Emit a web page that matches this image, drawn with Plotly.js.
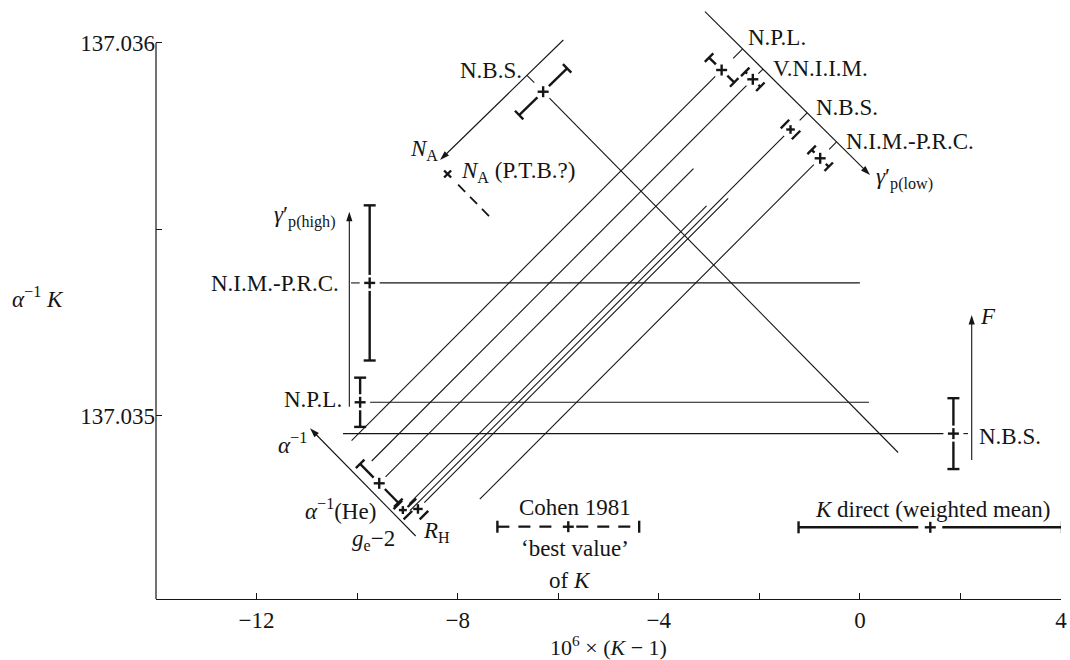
<!DOCTYPE html>
<html><head><meta charset="utf-8">
<script src="https://cdn.plot.ly/plotly-3.0.1.min.js"></script>
<style>html,body{margin:0;padding:0;background:#fff}#chart{width:1070px;height:660px}</style>
</head><body><div id="chart"></div>
<script>
// ---------------- values ----------------
const xRange = [-14, 4];
const yRange = [137.0345086, 137.0361011];
const xTick0 = -12, xDtick = 4, xMinorDtick = 2;
const yTick0 = 137.035, yDtick = 0.001, yMinorDtick = 0.0005;
const yAxisTop = 137.036;

// gamma'p(high) measurements: vertical bars, horizontal constraint lines
const gHighLab = ['N.I.M.-P.R.C.', 'N.P.L.'];
const gHighX = [-9.75, -9.94];
const gHighY = [137.035356, 137.035036];
const gHighErr = [0.000208, 0.000066];
const gHighFrom = [-10.12, -9.94];
const gHighTo = [0.0, 0.18];
const gHighArrowX = -10.155;
const gHighArrowY = [137.0350241, 137.0355469];

// Faraday (N.B.S.)
const fX = [1.86];
const fY = [137.034952];
const fErr = [0.000095];
const fFrom = [-10.28];
const fTo = [2.15];
const fArrowX = 2.224;
const fArrowY = [137.0348813, 137.0352700];

// gamma'p(low) axis and measurements
const gLowAxisX = [-3.081, 0.201];
const gLowAxisY = [137.0360831, 137.0356453];
const gLowLab = ['N.P.L.', 'V.N.I.I.M.', 'N.B.S.', 'N.I.M.-P.R.C.'];
const gLowX = [-2.75, -2.13, -1.38, -0.79];
const gLowY = [137.0359268, 137.0359019, 137.0357673, 137.0356901];
const gLowErr = [0.25, 0.15, 0.11, 0.17];
const gLowEnd = [-10.11, -9.71, -8.95, -7.56];

// N_A axis and measurements
const naAxisX = [-5.899, -8.351];
const naAxisY = [137.0360073, 137.0356855];
const naX = [-6.30];
const naY = [137.0358686];
const naErr = [0.477];
const naEnd = [0.76];
const ptbX = [-8.20];
const ptbY = [137.035648];
const ptbEnd = [-7.33];

// alpha^-1 axis and measurements: He, g_e-2, R_H
const alAxisX = [-8.835, -10.937];
const alAxisY = [137.0346775, 137.0349662];
const alX = [-9.56, -9.09, -8.79];
const alY = [137.0348188, 137.034747, 137.03475];
const alErr = [0.38, 0.10, 0.12];
const alEnd = [-3.31, -3.05, -2.62];

// slopes of the constraint lines (d(alpha^-1 K) per unit of 10^6(K-1))
const slopeUp = 1.35e-4;
const slopeDown = -1.37e-4;

// K values
const cohenX = [-5.80], cohenErr = [1.41], cohenY = [137.0347024];
const kdX = [1.40], kdErr = [2.62], kdY = [137.0347008];

// ---------------- geometry helpers ----------------
const M = {l: 156, r: 9, t: 5, b: 61, w: 1070, h: 660};
const KX = (M.w - M.l - M.r) / (xRange[1] - xRange[0]);
const KY = (M.h - M.t - M.b) / (yRange[1] - yRange[0]);
const GAP = 9, CAP = 6;

const thin = {x: [], y: []}, bold = {x: [], y: []}, dashBold = {x: [], y: []}, dashThin = {x: [], y: []};
function addSeg(t, a, b) { t.x.push(a[0], b[0], null); t.y.push(a[1], b[1], null); }
function move(x, y, dx, dy, d) { const n = Math.hypot(dx * KX, dy * KY); return [x + dx * d / n, y + dy * d / n]; }
function lineFromCenter(t, xc, yc, xe, slope, gap) {
  const dx = xe - xc, dy = slope * dx;
  addSeg(t, move(xc, yc, dx, dy, gap), [xe, yc + dy]);
}
function plusAt(xc, yc, arm) {
  addSeg(bold, [xc - arm / KX, yc], [xc + arm / KX, yc]);
  addSeg(bold, [xc, yc - arm / KY], [xc, yc + arm / KY]);
}
function crossAt(xc, yc, arm) {
  addSeg(bold, [xc - arm / KX, yc - arm / KY], [xc + arm / KX, yc + arm / KY]);
  addSeg(bold, [xc - arm / KX, yc + arm / KY], [xc + arm / KX, yc - arm / KY]);
}
function errBar(xc, yc, ex, ey, opts) {
  opts = opts || {};
  const e1 = [xc - ex, yc - ey], e2 = [xc + ex, yc + ey];
  const lenPx = Math.hypot(ex * KX, ey * KY);
  const t = opts.dashed ? dashBold : bold;
  const g = opts.gap || 8;
  if (lenPx > g + 2) {
    addSeg(t, e1, move(xc, yc, -ex, -ey, g));
    addSeg(t, move(xc, yc, ex, ey, g), e2);
  }
  const pxv = ex * KX, pyv = ey * KY, n = Math.hypot(pxv, pyv);
  const cx = -pyv / n * CAP / KX, cy = pxv / n * CAP / KY;
  addSeg(bold, [e1[0] - cx, e1[1] - cy], [e1[0] + cx, e1[1] + cy]);
  addSeg(bold, [e2[0] - cx, e2[1] - cy], [e2[0] + cx, e2[1] + cy]);
  plusAt(xc, yc, Math.min(5.5, lenPx * 0.55));
}
function intersect(xc, yc, m, ax, ay) {
  const ma = (ay[1] - ay[0]) / (ax[1] - ax[0]);
  const x = (ay[0] - ma * ax[0] - yc + m * xc) / (m - ma);
  return [x, yc + m * (x - xc)];
}
function connector(xc, yc, m, ax, ay, frac) {
  const I = intersect(xc, yc, m, ax, ay);
  addSeg(thin, I, [I[0] + frac * (xc - I[0]), I[1] + frac * (yc - I[1])]);
}
function axisSlope(ax, ay) { return (ay[1] - ay[0]) / (ax[1] - ax[0]); }

// horizontal constraint lines with vertical bars
function hLine(xc, yc, from, to) {
  if (from < xc - 0.05) addSeg(thin, [from, yc], move(xc, yc, -1, 0, GAP + 1));
  addSeg(thin, move(xc, yc, 1, 0, GAP + 1), [to, yc]);
}
gHighX.forEach((x, i) => { hLine(x, gHighY[i], gHighFrom[i], gHighTo[i]); errBar(x, gHighY[i], 0, gHighErr[i]); });
fX.forEach((x, i) => { hLine(x, fY[i], fFrom[i], fTo[i]); errBar(x, fY[i], 0, fErr[i]); });

// gamma'p(low)
const sLow = axisSlope(gLowAxisX, gLowAxisY);
gLowX.forEach((x, i) => {
  const y = gLowY[i];
  errBar(x, y, gLowErr[i], gLowErr[i] * sLow);
  connector(x, y, slopeUp, gLowAxisX, gLowAxisY, 0.45);
  lineFromCenter(thin, x, y, gLowEnd[i], slopeUp, GAP);
});

// N_A
const sNA = axisSlope(naAxisX, naAxisY);
naX.forEach((x, i) => {
  const y = naY[i];
  errBar(x, y, naErr[i], naErr[i] * sNA);
  connector(x, y, slopeDown, naAxisX, naAxisY, 0.45);
  lineFromCenter(thin, x, y, naEnd[i], slopeDown, GAP);
});
ptbX.forEach((x, i) => { crossAt(x, ptbY[i], 3.5); lineFromCenter(dashThin, x, ptbY[i], ptbEnd[i], slopeDown, 15); });

// alpha^-1
const sAl = axisSlope(alAxisX, alAxisY);
alX.forEach((x, i) => {
  const y = alY[i];
  errBar(x, y, alErr[i], alErr[i] * sAl);
  lineFromCenter(thin, x, y, alEnd[i], slopeUp, GAP);
});

// K values
cohenX.forEach((x, i) => errBar(x, cohenY[i], cohenErr[i], 0, {dashed: true}));
kdX.forEach((x, i) => errBar(x, kdY[i], kdErr[i], 0, {gap: 12}));

// ---------------- traces ----------------
const INK = '#151515';
const traces = [
  {x: thin.x, y: thin.y, mode: 'lines', line: {color: INK, width: 1.1}, hoverinfo: 'skip'},
  {x: dashThin.x, y: dashThin.y, mode: 'lines', line: {color: INK, width: 1.8, dash: '10px,7px'}, hoverinfo: 'skip'},
  {x: bold.x, y: bold.y, mode: 'lines', line: {color: INK, width: 2.4}, hoverinfo: 'skip'},
  {x: dashBold.x, y: dashBold.y, mode: 'lines', line: {color: INK, width: 2.2, dash: '12px,9px'}, hoverinfo: 'skip'}
];
function arrowTrace(x0, y0, x1, y1) {
  return {x: [x0, x1], y: [y0, y1], mode: 'lines+markers', hoverinfo: 'skip',
    line: {color: INK, width: 1.1},
    marker: {symbol: 'arrow', size: 10, angleref: 'previous', color: INK, line: {width: 0}}};
}
traces.push(arrowTrace(gLowAxisX[0], gLowAxisY[0], gLowAxisX[1], gLowAxisY[1]));
traces.push(arrowTrace(naAxisX[0], naAxisY[0], naAxisX[1], naAxisY[1]));
traces.push(arrowTrace(alAxisX[0], alAxisY[0], alAxisX[1], alAxisY[1]));
traces.push(arrowTrace(gHighArrowX, gHighArrowY[0], gHighArrowX, gHighArrowY[1]));
traces.push(arrowTrace(fArrowX, fArrowY[0], fArrowX, fArrowY[1]));

// ---------------- text labels ----------------
const FONT = 'Liberation Serif, Times New Roman, serif';
const labels = [
  ['N.B.S.', -6.681, 137.0359268, 'right'],
  ['<i>N</i><sub>A</sub>', -8.670, 137.0357124, 'center'],
  ['<i>N</i><sub>A</sub> (P.T.B.?)', -7.973, 137.0356534, 'left'],
  ['<i>\u03b3</i>\u2032<sub>p(high)</sub>', -10.380, 137.0355354, 'right'],
  [gHighLab[0], -10.320, 137.0353558, 'right'],
  [gHighLab[1], -10.261, 137.0350448, 'right'],
  ['<i>\u03b1</i><sup>\u22121</sup>', -11.295, 137.0349242, 'center'],
  ['<i>\u03b1</i><sup>\u22121</sup>(He)', -9.585, 137.0347499, 'right'],
  ['<i>g</i><sub>e</sub>\u22122', -9.207, 137.0346668, 'right'],
  ['<i>R</i><sub>H</sub>', -8.730, 137.0346882, 'left'],
  ['Cohen 1981', -5.666, 137.0347526, 'center'],
  ['\u2018best value\u2019', -5.666, 137.0346427, 'center'],
  ['of <i>K</i>', -5.766, 137.0345595, 'center'],
  ['<i>K</i> direct (weighted mean)', 1.454, 137.0347499, 'center'],
  ['N.B.S.', 2.329, 137.0349456, 'left'],
  ['<i>F</i>', 2.349, 137.0352673, 'left'],
  [gLowLab[0], -2.265, 137.0360140, 'left'],
  [gLowLab[1], -1.768, 137.0359309, 'left'],
  [gLowLab[2], -0.912, 137.0358250, 'left'],
  [gLowLab[3], -0.316, 137.0357365, 'left'],
  ['<i>\u03b3</i>\u2032<sub>p(low)</sub>', 0.280, 137.0356373, 'left']
];
const annotations = labels.map(l => ({text: l[0], x: l[1], y: l[2], xref: 'x', yref: 'y',
  xanchor: l[3], yanchor: 'middle', showarrow: false, font: {family: FONT, size: 23, color: INK}}));
annotations.push({text: '<i>\u03b1</i><sup>\u22121</sup> <i>K</i>', x: -0.130, y: 0.507, xref: 'paper', yref: 'paper',
  xanchor: 'center', yanchor: 'middle', showarrow: false, font: {family: FONT, size: 23, color: INK}});

const tickStyle = {ticks: 'inside', ticklen: 6, tickcolor: INK, tickwidth: 1.2};
const layout = {
  width: M.w, height: M.h,
  margin: {l: M.l, r: M.r, t: M.t, b: M.b},
  paper_bgcolor: '#fff', plot_bgcolor: '#fff',
  showlegend: false, hovermode: false,
  font: {family: FONT, size: 23, color: INK},
  xaxis: Object.assign({range: xRange, tickmode: 'linear', tick0: xTick0, dtick: xDtick,
    minor: Object.assign({tick0: xTick0, dtick: xMinorDtick, showgrid: false}, tickStyle),
    showline: true, linecolor: INK, linewidth: 1.2, showgrid: false,
    zeroline: false, automargin: false, tickfont: {family: FONT, size: 23, color: INK},
    title: {text: '10<sup>6</sup> \u00d7 (<i>K</i> \u2212 1)', standoff: 6, font: {family: FONT, size: 22, color: INK}}}, tickStyle),
  yaxis: Object.assign({range: yRange, tickmode: 'linear', tick0: yTick0, dtick: yDtick, tickformat: '.3f',
    minor: Object.assign({tick0: yTick0, dtick: yMinorDtick, showgrid: false}, tickStyle),
    showline: false, showgrid: false, zeroline: false, automargin: false,
    tickfont: {family: FONT, size: 23, color: INK}}, tickStyle),
  shapes: [{type: 'line', xref: 'paper', yref: 'y', x0: 0, x1: 0, y0: yRange[0], y1: yAxisTop,
    line: {color: INK, width: 1.2}}],
  annotations: annotations
};
Plotly.newPlot('chart', traces, layout, {staticPlot: true, displayModeBar: false});
</script></body></html>
